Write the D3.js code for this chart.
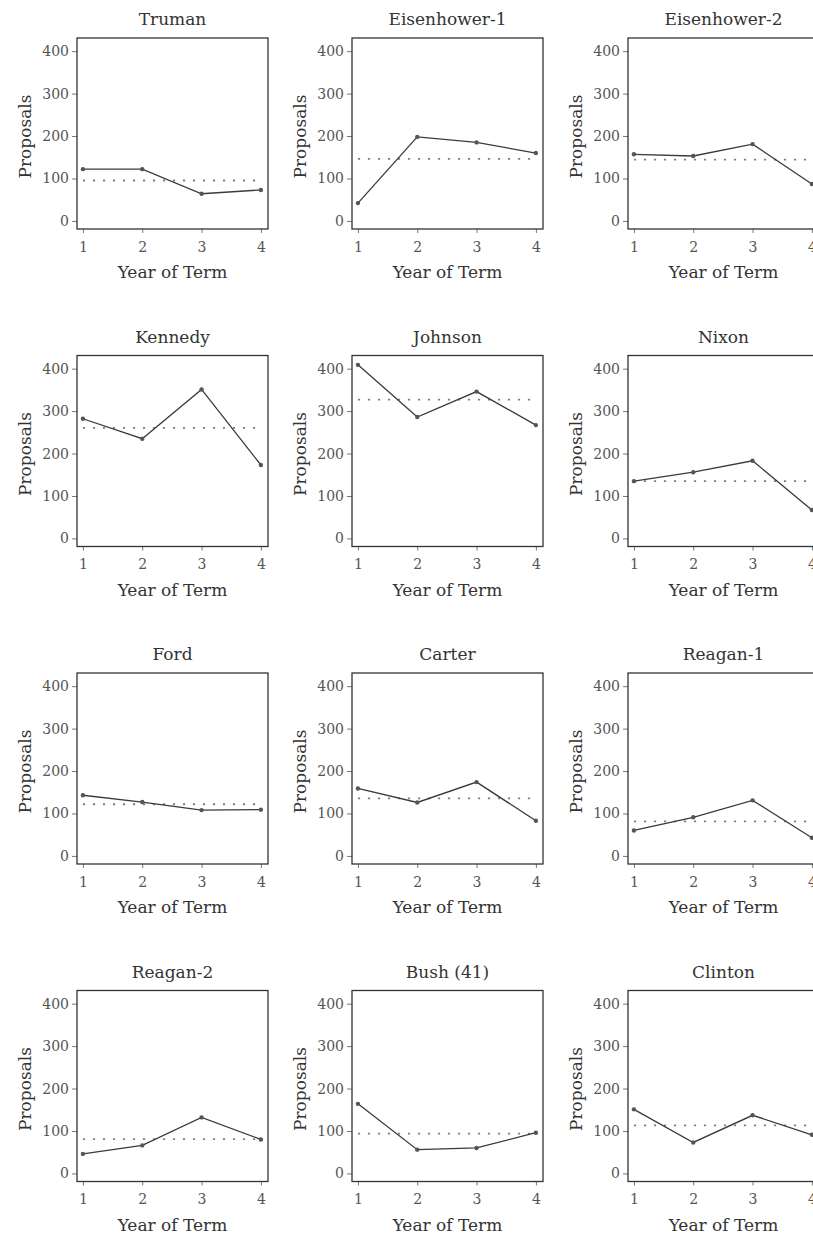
<!DOCTYPE html>
<html>
<head>
<meta charset="utf-8">
<script src="https://cdn.jsdelivr.net/npm/d3@7"></script>
<style>
  body { margin: 0; background: #fff; }
  svg { display: block; }
  .tick text { font-family: "DejaVu Serif", serif; }
</style>
</head>
<body>
<div id="graph"></div>
<script>
// proposals per year of term, one small array per administration
const presidents = ["Truman", "Eisenhower-1", "Eisenhower-2",
  "Kennedy", "Johnson", "Nixon",
  "Ford", "Carter", "Reagan-1",
  "Reagan-2", "Bush (41)", "Clinton"];
const years = [1, 2, 3, 4];
const yTicks = [0, 100, 200, 300, 400];
const proposals = [
  [122, 122, 64, 73],
  [42, 198, 185, 160],
  [157, 153, 181, 87],
  [282, 235, 351, 173],
  [409, 286, 346, 267],
  [135, 156, 183, 67],
  [143, 127, 108, 109],
  [159, 126, 174, 83],
  [60, 91, 131, 43],
  [46, 66, 132, 80],
  [164, 56, 60, 96],
  [151, 73, 137, 91]
];

const fullwidth = 813;
const fullheight = 1235;
const colLeft = [77, 352, 628];
const rowTop = [38, 355.5, 673, 990.5];
const boxSize = 191;
const font = '"DejaVu Serif", serif';

const svg = d3.select("#graph").
append("svg").
attr("width", fullwidth).
attr("height", fullheight);

const xScale = d3.scaleLinear().
domain([0.9, 4.12]).
range([0, boxSize]);

const yScale = d3.scaleLinear().
domain([-19, 431]).
range([boxSize, 0]);

const xAxis = d3.axisBottom(xScale).tickValues(years).tickSize(4).tickPadding(9).tickFormat(d3.format("d"));
const yAxis = d3.axisLeft(yScale).tickValues(yTicks).tickSize(5).tickPadding(3);

const line = d3.line().
x((d, i) => xScale(years[i])).
y(d => yScale(d));

presidents.forEach(function (name, k) {
  const g = svg.append("g").
  attr("transform", "translate(" + colLeft[k % 3] + "," + rowTop[Math.floor(k / 3)] + ")");
  const vals = proposals[k];
  const avg = d3.mean(vals);

  const gy = g.append("g").call(yAxis);
  const gx = g.append("g").attr("transform", "translate(0," + boxSize + ")").call(xAxis);
  [gx, gy].forEach(function (a) {
    a.select(".domain").remove();
    a.selectAll(".tick line").attr("stroke", "#777");
    a.selectAll(".tick text").attr("fill", "#555").style("font-size", "14px");
  });

  g.append("rect").
  attr("x", 0).
  attr("y", 0).
  attr("width", boxSize).
  attr("height", boxSize).
  attr("fill", "none").
  attr("stroke", "#333").
  attr("stroke-width", 1.3);

  // mean of the four years
  g.append("line").
  attr("x1", xScale(1)).
  attr("x2", xScale(4)).
  attr("y1", yScale(avg)).
  attr("y2", yScale(avg)).
  attr("stroke", "#808080").
  attr("stroke-width", 1.8).
  attr("stroke-dasharray", "2.2,7.8");

  g.append("path").
  datum(vals).
  attr("d", line).
  attr("fill", "none").
  attr("stroke", "#3a3a3a").
  attr("stroke-width", 1.3);

  g.selectAll("circle").
  data(vals).
  enter().
  append("circle").
  attr("cx", (d, i) => xScale(years[i])).
  attr("cy", d => yScale(d)).
  attr("r", 2.2).
  attr("fill", "#555");

  g.append("text").
  attr("x", boxSize / 2).
  attr("y", -13).
  attr("text-anchor", "middle").
  attr("font-family", font).
  attr("font-size", 17).
  attr("fill", "#333").
  text(name);

  g.append("text").
  attr("x", boxSize / 2).
  attr("y", boxSize + 49).
  attr("text-anchor", "middle").
  attr("font-family", font).
  attr("font-size", 17).
  attr("fill", "#333").
  text("Year of Term");

  g.append("text").
  attr("transform", "translate(-46," + (boxSize / 2 + 3) + ") rotate(-90)").
  attr("text-anchor", "middle").
  attr("font-family", font).
  attr("font-size", 17).
  attr("fill", "#333").
  text("Proposals");
});
</script>
</body>
</html>
